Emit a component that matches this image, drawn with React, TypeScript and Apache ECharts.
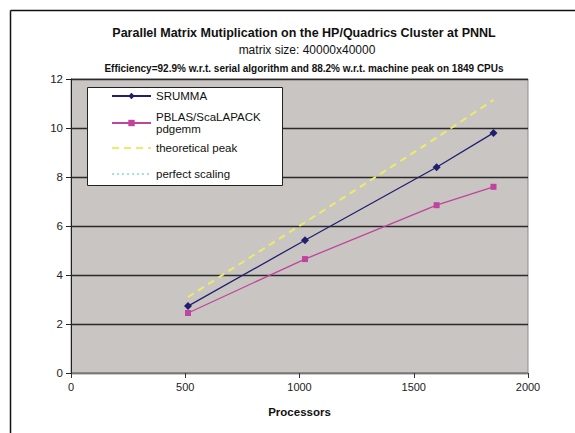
import React, { useEffect, useRef } from "react";
import * as echarts from "echarts";

const processors = [512, 1024, 1600, 1849];
const srumma = [2.73, 5.42, 8.4, 9.8];
const pblas = [2.45, 4.65, 6.85, 7.6];
const theoreticalPeak = [3.1, 6.15, 9.6, 11.15];
const perfectScaling: number[] = [];

const titleText = "Parallel Matrix Mutiplication on the HP/Quadrics Cluster at PNNL";
const subText = "matrix size: 40000x40000";
const effText = "Efficiency=92.9% w.r.t. serial algorithm and 88.2% w.r.t. machine peak on 1849 CPUs";

const FONT = "Liberation Sans, Arial, sans-serif";

const pairs = (xs: number[], ys: number[]) => ys.map((y, i) => [xs[i], y]);

export default function App() {
  const ref = useRef<HTMLDivElement>(null);
  useEffect(() => {
    if (!ref.current) return;
    const chart = echarts.init(ref.current, null, { renderer: "svg" });
    const legendCommon = {
      orient: "vertical" as const,
      itemWidth: 39,
      itemHeight: 8,
      itemGap: 4,
      padding: 0,
      z: 20,
      textStyle: { fontFamily: FONT, fontSize: 11.5, color: "#111" },
      selectedMode: false,
    };
    chart.setOption({
      animation: false,
      backgroundColor: "#ffffff",
      textStyle: { fontFamily: FONT },
      title: [
        {
          text: titleText,
          left: 299,
          top: 21,
          textAlign: "center",
          textStyle: { fontFamily: FONT, fontSize: 12.5, fontWeight: "bold", color: "#111" },
        },
        {
          text: subText,
          left: 302,
          top: 39,
          textAlign: "center",
          textStyle: { fontFamily: FONT, fontSize: 12, fontWeight: "normal", color: "#111" },
        },
        {
          text: effText,
          left: 299,
          top: 58,
          textAlign: "center",
          textStyle: { fontFamily: FONT, fontSize: 10, fontWeight: "bold", color: "#111" },
        },
      ],
      legend: [
        { ...legendCommon, left: 111, top: 90, data: ["SRUMMA"] },
        {
          ...legendCommon,
          left: 111,
          top: 105,
          data: ["PBLAS/ScaLAPACK pdgemm"],
          formatter: () => "PBLAS/ScaLAPACK\npdgemm",
          textStyle: { ...legendCommon.textStyle, lineHeight: 12, padding: [12, 0, 0, 0] },
        },
        { ...legendCommon, left: 111, top: 142, data: ["theoretical peak"], itemStyle: { opacity: 0 } },
        { ...legendCommon, left: 111, top: 168, data: ["perfect scaling"], itemStyle: { opacity: 0 } },
      ],
      grid: {
        left: 71,
        right: 47,
        top: 79,
        bottom: 60,
        show: true,
        backgroundColor: "#c8c5c2",
        borderColor: "#8c8c8c",
        borderWidth: 1,
      },
      xAxis: {
        type: "value",
        min: 0,
        max: 2000,
        interval: 500,
        name: "Processors",
        nameLocation: "middle",
        nameGap: 33,
        nameTextStyle: { fontFamily: FONT, fontSize: 11.5, fontWeight: "bold", color: "#111" },
        axisLine: { show: true, onZero: false, lineStyle: { color: "#777", width: 1 } },
        axisTick: { show: true, inside: false, length: 5, lineStyle: { color: "#333" } },
        axisLabel: { fontFamily: FONT, fontSize: 11, color: "#222", margin: 8, formatter: (v: number) => String(v) },
        splitLine: { show: false },
      },
      yAxis: {
        type: "value",
        min: 0,
        max: 12,
        interval: 2,
        axisLine: { show: true, onZero: false, lineStyle: { color: "#222", width: 1 } },
        axisTick: { show: true, inside: false, length: 5, lineStyle: { color: "#222" } },
        axisLabel: { fontFamily: FONT, fontSize: 11.5, color: "#222", margin: 8 },
        splitLine: { show: true, lineStyle: { color: "#2a2a2a", width: 1.3 } },
      },
      graphic: [
        {
          type: "line",
          shape: { x1: 10.5, y1: 10.5, x2: 575, y2: 10.5 },
          style: { stroke: "#111", lineWidth: 1.5 },
          z: 100,
        },
        {
          type: "line",
          shape: { x1: 10.5, y1: 10.5, x2: 10.5, y2: 433 },
          style: { stroke: "#111", lineWidth: 1.5 },
          z: 100,
        },
        {
          type: "rect",
          shape: { x: 87.5, y: 87.5, width: 195, height: 98 },
          style: { fill: "#ffffff", stroke: "#222", lineWidth: 1 },
          z: 5,
        },
      ],
      series: [
        {
          name: "SRUMMA",
          type: "line",
          data: pairs(processors, srumma),
          symbol: "diamond",
          symbolSize: 8,
          lineStyle: { color: "#22206e", width: 1.3 },
          itemStyle: { color: "#22206e" },
          z: 4,
        },
        {
          name: "PBLAS/ScaLAPACK pdgemm",
          type: "line",
          data: pairs(processors, pblas),
          symbol: "rect",
          symbolSize: 6,
          lineStyle: { color: "#c0449e", width: 1.3 },
          itemStyle: { color: "#c0449e" },
          z: 3,
        },
        {
          name: "theoretical peak",
          type: "line",
          data: pairs(processors, theoreticalPeak),
          symbol: "none",
          lineStyle: { color: "#ecec6a", width: 2, type: [7, 5] },
          itemStyle: { color: "#ecec6a" },
          z: 2,
        },
        {
          name: "perfect scaling",
          type: "line",
          data: pairs(processors, perfectScaling),
          symbol: "none",
          lineStyle: { color: "#a8dede", width: 1.5, type: [2, 3] },
          itemStyle: { color: "#a8dede" },
          z: 2,
        },
      ],
    });
    return () => chart.dispose();
  }, []);
  return <div ref={ref} style={{ width: 575, height: 433, position: "absolute", left: 0, top: 0 }} />;
}
